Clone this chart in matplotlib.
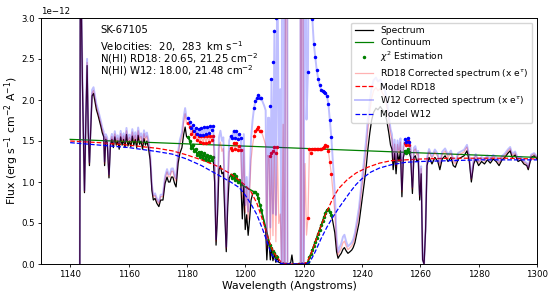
import numpy as np
import matplotlib.pyplot as plt

# observed spectrum (Angstrom, flux in 1e-12 erg/s/cm2/A)
wave = [
    1143.3, 1143.5, 1144.2, 1144.9, 1145.4, 1145.8, 1146.2, 1146.6, 1147.0, 1147.5,
    1148.0, 1148.5, 1149.0, 1149.5, 1150.0, 1150.5, 1151.0, 1151.5, 1151.8, 1152.2,
    1152.7, 1153.3, 1153.8, 1154.3, 1154.8, 1155.3, 1155.8, 1156.3, 1156.8, 1157.3,
    1157.8, 1158.3, 1158.8, 1159.3, 1159.8, 1160.3, 1160.8, 1161.3, 1161.8, 1162.3,
    1162.8, 1163.3, 1163.8, 1164.3, 1164.8, 1165.3, 1165.8, 1166.3, 1166.8, 1167.4,
    1168.0, 1168.5, 1169.1, 1169.7, 1170.4, 1171.0, 1171.8, 1172.5, 1173.2, 1173.7,
    1174.2, 1174.7, 1175.2, 1175.8, 1176.3, 1176.7, 1177.0, 1177.6, 1178.3, 1178.9,
    1179.4, 1179.9, 1180.5, 1181.0, 1181.5, 1182.0, 1182.5, 1183.0, 1183.5, 1184.0,
    1184.5, 1185.0, 1185.5, 1186.0, 1186.5, 1187.0, 1187.5, 1188.0, 1188.5, 1189.0,
    1189.5, 1190.0, 1190.5, 1191.0, 1191.5, 1192.0, 1192.5, 1193.0, 1193.5, 1194.0,
    1194.5, 1195.0, 1195.5, 1196.0, 1196.5, 1197.0, 1197.5, 1198.0, 1198.5, 1199.0,
    1199.5, 1200.0, 1200.5, 1201.0, 1201.5, 1202.0, 1202.5, 1203.0, 1203.5, 1204.0,
    1204.5, 1205.0, 1205.5, 1206.0, 1206.5, 1207.0, 1207.4, 1207.8, 1208.2, 1208.6,
    1209.0, 1209.5, 1210.0, 1210.5, 1211.0, 1211.5, 1212.0, 1212.5, 1213.0, 1213.5,
    1214.0, 1214.5, 1215.0, 1215.6, 1216.0, 1216.4, 1217.0, 1217.5, 1218.0, 1218.5,
    1219.0, 1219.5, 1220.0, 1220.5, 1221.0, 1221.5, 1222.0, 1222.5, 1223.0, 1223.5,
    1224.0, 1224.5, 1225.0, 1225.5, 1226.0, 1226.5, 1227.0, 1227.5, 1228.0, 1228.5,
    1229.0, 1229.5, 1230.0, 1230.7, 1231.3, 1231.8, 1232.3, 1232.9, 1233.5, 1234.0,
    1234.6, 1235.2, 1235.9, 1236.5, 1237.0, 1237.6, 1238.3, 1239.0, 1239.8, 1240.8,
    1241.5, 1242.0, 1242.7, 1243.3, 1244.0, 1244.8, 1245.5, 1246.3, 1247.0, 1247.8,
    1248.5, 1249.2, 1249.8, 1250.3, 1250.7, 1251.2, 1251.7, 1252.2, 1252.7, 1253.2,
    1253.7, 1254.2, 1254.7, 1255.2, 1255.7, 1256.2, 1256.7, 1257.3, 1257.8, 1258.3,
    1258.8, 1259.3, 1259.8, 1260.3, 1260.8, 1261.3, 1261.8, 1262.3, 1263.0, 1264.0,
    1265.0, 1266.0, 1266.7, 1267.5, 1268.5, 1269.5, 1270.5, 1271.3, 1272.0, 1273.0,
    1274.0, 1275.0, 1276.0, 1276.8, 1277.5, 1278.3, 1279.0, 1280.0, 1281.0, 1282.0,
    1283.0, 1284.0, 1285.0, 1286.0, 1287.0, 1288.0, 1289.0, 1290.0, 1290.8, 1291.5,
    1292.5, 1293.5, 1294.5, 1295.5, 1296.5, 1297.0, 1298.0, 1299.0, 1300.0,
]
flux = [
    0.00, 4.00, 2.20, 0.87, 1.80, 2.42, 1.60, 1.20, 1.60, 2.05,
    2.08, 1.98, 1.88, 1.82, 1.75, 1.68, 1.60, 1.55, 1.20, 1.52,
    1.48, 1.05, 1.45, 1.52, 1.42, 1.55, 1.45, 1.50, 1.40, 1.55,
    1.45, 1.52, 1.42, 1.58, 1.44, 1.50, 1.43, 1.56, 1.45, 1.52,
    1.42, 1.57, 1.46, 1.50, 1.40, 1.53, 1.45, 1.50, 1.42, 1.27,
    0.90, 0.78, 0.80, 0.74, 0.70, 0.78, 0.78, 0.98, 1.06, 1.00,
    1.00, 1.06, 1.06, 0.98, 0.94, 1.10, 1.23, 1.35, 1.42, 1.58,
    1.67, 1.55, 1.55, 1.50, 1.42, 1.45, 1.38, 1.40, 1.33, 1.37,
    1.30, 1.36, 1.28, 1.35, 1.27, 1.33, 1.26, 1.32, 1.27, 1.30,
    1.00, 0.23, 0.60, 1.15, 1.20, 1.10, 1.12, 0.60, 0.15, 0.70,
    1.05, 1.08, 1.05, 1.10, 1.03, 1.07, 1.00, 1.02, 0.97, 0.55,
    0.95, 0.42, 0.60, 0.35, 0.55, 0.78, 0.85, 0.88, 0.88, 0.85,
    0.80, 0.72, 0.66, 0.58, 0.50, 0.42, 0.05, 0.30, 0.25, 0.05,
    0.19, 0.04, 0.13, 0.02, 0.08, 0.02, 0.015, 0.0, 0.012, -0.004,
    0.01, 0.0, 0.0, 0.02, 0.11, 0.0, 0.0, 0.0, 0.0, 0.01,
    -0.003, 0.012, 0.0, 0.01, 0.005, 0.02, 0.08, 0.12, 0.17, 0.22,
    0.27, 0.32, 0.37, 0.42, 0.47, 0.52, 0.57, 0.62, 0.66, 0.67,
    0.64, 0.60, 0.52, 0.38, 0.15, 0.07, 0.10, 0.13, 0.18, 0.20,
    0.16, 0.13, 0.15, 0.17, 0.20, 0.26, 0.38, 0.50, 0.72, 0.99,
    1.20, 1.39, 1.60, 1.75, 1.85, 1.90, 1.88, 1.92, 1.88, 1.85,
    1.75, 1.60, 1.45, 1.40, 1.15, 1.35, 1.10, 1.35, 1.25, 1.38,
    0.82, 1.30, 1.38, 1.35, 1.40, 1.36, 1.30, 0.86, 1.30, 1.32,
    1.25, 1.27, 0.78, 1.10, 0.05, 0.00, 0.40, 1.20, 1.30, 1.22,
    1.30, 1.25, 1.15, 1.28, 1.32, 1.25, 1.30, 1.20, 1.18, 1.28,
    1.30, 1.32, 1.38, 1.25, 1.00, 1.22, 1.28, 1.20, 1.25, 1.22,
    1.27, 1.23, 1.28, 1.25, 1.20, 1.27, 1.30, 1.35, 1.38, 1.30,
    1.33, 1.25, 1.27, 1.22, 1.20, 1.15, 1.30, 1.32, 1.28,
]

# fitted continuum
cont_wave = [1140, 1300]
cont_flux = [1.52, 1.30]

# points used for the chi^2 estimation
chi_wave = [
    1180.5, 1181.0, 1181.5, 1182.0, 1182.5, 1183.0, 1183.5, 1184.0, 1184.5, 1185.0,
    1185.5, 1186.0, 1186.5, 1187.0, 1187.5, 1188.0, 1188.5, 1189.0,
    1195.0, 1195.5, 1196.0, 1196.5, 1197.0, 1197.5, 1198.0, 1198.5,
    1203.0, 1203.5, 1204.0, 1204.5, 1205.0, 1205.5,
    1208.5, 1209.0, 1209.5, 1210.0, 1210.5, 1211.0,
    1221.5, 1222.0, 1222.5, 1223.0, 1223.5, 1224.0, 1224.5, 1225.0, 1225.5, 1226.0,
    1226.5, 1227.0, 1227.5, 1228.0, 1228.5, 1229.0, 1229.5,
    1254.7, 1255.2, 1255.7, 1256.2,
]
chi_flux = [
    1.55, 1.50, 1.42, 1.45, 1.38, 1.40, 1.33, 1.37, 1.30, 1.36,
    1.28, 1.35, 1.27, 1.33, 1.26, 1.32, 1.27, 1.30,
    1.08, 1.05, 1.10, 1.03, 1.07, 1.00, 1.02, 0.97,
    0.88, 0.88, 0.85, 0.80, 0.72, 0.66,
    0.23, 0.19, 0.16, 0.13, 0.10, 0.08,
    0.02, 0.08, 0.12, 0.17, 0.22, 0.27, 0.32, 0.37, 0.42, 0.47,
    0.52, 0.57, 0.62, 0.66, 0.67, 0.64, 0.60,
    1.38, 1.35, 1.40, 1.36,
]
chi_groups = [(0, 18), (18, 38), (38, 55), (55, 59)]

# absorption models (continuum x e^-tau)
rd18_wave = [1140, 1150, 1160, 1170, 1175, 1180, 1185, 1190, 1195, 1198,
             1200, 1202, 1204, 1206, 1208, 1209, 1210, 1211, 1212, 1213,
             1214, 1215, 1218, 1219, 1220, 1221, 1222, 1223, 1224, 1225,
             1226, 1227, 1228, 1230, 1232, 1235, 1238, 1242, 1246, 1250,
             1260, 1270, 1280, 1290, 1300]
rd18_flux = [1.50, 1.48, 1.45, 1.41, 1.38, 1.33, 1.27, 1.20, 1.10, 1.02,
             0.96, 0.88, 0.74, 0.53, 0.30, 0.20, 0.13, 0.08, 0.035, 0.01,
             0.002, 0.0, 0.0, 0.0005, 0.003, 0.02, 0.08, 0.17, 0.27, 0.37,
             0.47, 0.56, 0.64, 0.80, 0.92, 1.03, 1.11, 1.18, 1.23, 1.26,
             1.28, 1.29, 1.29, 1.29, 1.28]
w12_wave = [1140, 1150, 1160, 1170, 1175, 1180, 1185, 1190, 1195, 1198,
            1200, 1202, 1204, 1206, 1208, 1209, 1210, 1211, 1212, 1213,
            1214, 1215, 1218, 1219, 1220, 1221, 1222, 1223, 1224, 1225,
            1226, 1227, 1228, 1230, 1232, 1234, 1236, 1238, 1240, 1243,
            1246, 1250, 1255, 1260, 1270, 1280, 1290, 1300]
w12_flux = [1.48, 1.45, 1.42, 1.37, 1.34, 1.28, 1.20, 1.10, 1.00, 0.93,
            0.84, 0.73, 0.60, 0.42, 0.22, 0.12, 0.065, 0.03, 0.01, 0.001,
            0.0005, 0.0, 0.0, 0.0003, 0.001, 0.004, 0.02, 0.08, 0.15, 0.23,
            0.31, 0.38, 0.45, 0.57, 0.68, 0.78, 0.88, 0.97, 1.04, 1.12,
            1.17, 1.21, 1.24, 1.25, 1.26, 1.27, 1.27, 1.27]

scale = 1e-12
wave = np.array(wave)
flux = np.array(flux)
chi_wave = np.array(chi_wave)
chi_flux = np.array(chi_flux)


def corrected(w, f, mw, mf):
    # spectrum times e^tau, with e^-tau = model / continuum
    m = np.interp(w, mw, mf)
    c = np.interp(w, cont_wave, cont_flux)
    out = np.full(len(w), np.nan)
    ok = m > 0
    out[ok] = f[ok] * c[ok] / m[ok]
    return out


rd18_corr = corrected(wave, flux, rd18_wave, rd18_flux)
w12_corr = corrected(wave, flux, w12_wave, w12_flux)
rd18_chi = corrected(chi_wave, chi_flux, rd18_wave, rd18_flux)
w12_chi = corrected(chi_wave, chi_flux, w12_wave, w12_flux)

fig = plt.figure(figsize=(5.56, 2.97), dpi=100)
ax = fig.add_axes([41 / 556, 33 / 297, 496 / 556, 246 / 297])

ax.plot(wave, flux * scale, color='k', lw=0.9, label='Spectrum')
ax.plot(cont_wave, np.array(cont_flux) * scale, color='g', lw=0.9, label='Continuum')
for a, b in chi_groups:
    ax.plot(chi_wave[a:b], chi_flux[a:b] * scale, color='g', lw=1.1)
ax.plot(chi_wave, chi_flux * scale, 'g.', ms=3, label=r'$\chi^2$ Estimation')
ax.plot(wave, rd18_corr * scale, color='r', alpha=0.3, lw=0.9,
        label=r'RD18 Corrected spectrum (x e$^{\tau}$)')
ax.plot(chi_wave, rd18_chi * scale, 'r.', ms=3)
ax.plot(rd18_wave, np.array(rd18_flux) * scale, 'r--', lw=0.9, label='Model RD18')
ax.plot(wave, w12_corr * scale, color='b', alpha=0.25, lw=1.4,
        label=r'W12 Corrected spectrum (x e$^{\tau}$)')
ax.plot(chi_wave, w12_chi * scale, 'b.', ms=3)
ax.plot(w12_wave, np.array(w12_flux) * scale, 'b--', lw=0.9, label='Model W12')

ax.set_xlim(1130, 1300)
ax.set_ylim(0, 3e-12)
ax.set_xticks(np.arange(1140, 1301, 20))
ax.tick_params(labelsize=6.2, length=2.5, width=0.6, pad=2)
ax.yaxis.get_offset_text().set_fontsize(6.2)
for s in ax.spines.values():
    s.set_linewidth(0.7)
ax.set_xlabel('Wavelength (Angstroms)', fontsize=7.8, labelpad=1)
ax.set_ylabel(r'Flux (erg s$^{-1}$ cm$^{-2}$ A$^{-1}$)', fontsize=7.8, labelpad=0)

ax.text(1150.2, 2.817e-12, 'SK-67105', fontsize=7.3)
ax.text(1150.2, 2.305e-12,
        'Velocities:  20,  283  km s$^{-1}$\n'
        'N(HI) RD18: 20.65, 21.25 cm$^{-2}$\n'
        'N(HI) W12: 18.00, 21.48 cm$^{-2}$',
        fontsize=7.3, linespacing=0.76, va='baseline')

ax.legend(loc='upper right', fontsize=6.6, labelspacing=0.3)

fig.savefig('out.png', dpi=100)
